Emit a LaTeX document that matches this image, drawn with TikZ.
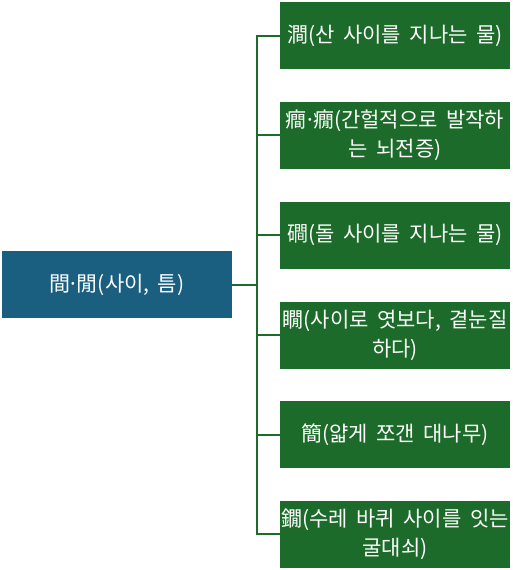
\documentclass[tikz,border=0pt]{standalone}
\usepackage{fontspec}
\setmainfont[WordSpace=1.8]{Noto Sans CJK KR}
\definecolor{rootblue}{HTML}{1A5F80}
\definecolor{leafgreen}{HTML}{1D6B2A}
\newcommand{\mdot}{\makebox[0.3em]{·}}
\begin{document}
\begin{tikzpicture}[x=1pt,y=-1pt,
  rootbox/.style={fill=rootblue,text=white,minimum width=230pt,minimum height=67pt,inner sep=0pt,align=center,font=\fontsize{21}{29}\selectfont},
  leafbox/.style={fill=leafgreen,text=white,minimum width=230pt,minimum height=67pt,inner sep=0pt,align=center,font=\fontsize{21}{29}\selectfont},
  link/.style={draw=leafgreen,line width=2pt}]
\useasboundingbox (0,0) rectangle (512,570);
\node[rootbox] (root) at (117,284.5) {間\mdot 閒(사이, 틈)};
\node[leafbox] (b1) at (395,35.5) {澗(산 사이를 지나는 물)};
\node[leafbox] (b2) at (395,135) {癎\mdot 癇(간헐적으로 발작하\\는 뇌전증)};
\node[leafbox] (b3) at (395,235) {磵(돌 사이를 지나는 물)};
\node[leafbox] (b4) at (395,335) {瞯(사이로 엿보다, 곁눈질\\하다)};
\node[leafbox] (b5) at (395,434.5) {簡(얇게 쪼갠 대나무)};
\node[leafbox] (b6) at (395,534) {鐗(수레 바퀴 사이를 잇는\\굴대쇠)};
\coordinate (j) at (257,284.5);
\draw[link] (root.east) -- (j);
\foreach \b in {b1,b2,b3,b4,b5,b6} {\draw[link] (j) |- (\b.west);}
\end{tikzpicture}
\end{document}
